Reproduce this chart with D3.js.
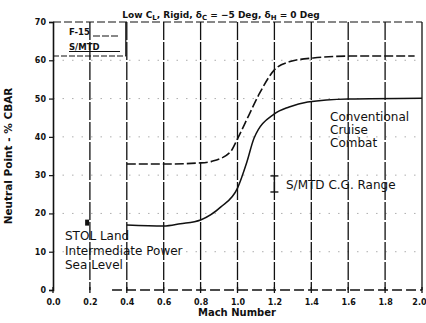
<!DOCTYPE html>
<html>
<head>
<meta charset="utf-8">
<script src="https://cdn.jsdelivr.net/npm/d3@7"></script>
<style>
  html, body { margin: 0; padding: 0; background: #fff; }
  svg { display: block; }
  text { font-family: "DejaVu Sans", "Liberation Sans", sans-serif; fill: #111; }
</style>
</head>
<body>
<svg id="chart" width="426" height="323"></svg>
<script>
// ---- data ----
const xTicks = [0.0, 0.2, 0.4, 0.6, 0.8, 1.0, 1.2, 1.4, 1.6, 1.8, 2.0];
const xTickLabels = ["0.0", "0.2", "0.4", "0.6", "0.8", "1.0", "1.2", "1.4", "1.6", "1.8", "2.0"];
const yTicks = [0, 10, 20, 30, 40, 50, 60, 70];
const yTickLabels = ["0", "10", "20", "30", "40", "50", "60", "70"];

// F-15 (dashed, upper)
const f15Mach = [0.40, 0.60, 0.80, 0.86, 0.96, 1.00, 1.06, 1.12, 1.20, 1.28, 1.41, 1.61, 1.96];
const f15NP   = [32.9, 32.9, 33.2, 33.6, 36.0, 39.5, 45.5, 51.4, 57.5, 59.6, 60.6, 61.1, 61.1];
// S/MTD (solid, lower)
const smtdMach = [0.40, 0.60, 0.69, 0.80, 0.91, 1.00, 1.05, 1.09, 1.20, 1.28, 1.38, 1.60, 2.00];
const smtdNP   = [17.0, 16.7, 17.3, 18.3, 21.7, 26.6, 33.3, 39.7, 46.0, 47.8, 49.1, 49.9, 50.1];

// S/MTD C.G. range bar
const cgRangeMach = [1.2];
const cgRangeLow = [25.6];
const cgRangeHigh = [29.8];

// STOL land point
const stolMach = [0.185];
const stolNP = [17.6];

// ---- layout ----
const svg = d3.select("#chart");
const x = d3.scaleLinear().domain([0, 2]).range([53, 422]);
const y = d3.scaleLinear().domain([0, 70]).range([290, 22]);

// horizontal dotted grid (faint)
svg.append("g").selectAll("line").data(yTicks.slice(1, -1)).join("line")
  .attr("x1", x(0)).attr("x2", x(2))
  .attr("y1", d => y(d)).attr("y2", d => y(d))
  .attr("stroke", "#999").attr("stroke-width", 0.8)
  .attr("stroke-dasharray", "1.5,8");

// vertical grid lines
svg.append("g").selectAll("line").data(xTicks.slice(1)).join("line")
  .attr("x1", d => x(d)).attr("x2", d => x(d))
  .attr("y1", y(70)).attr("y2", y(0))
  .attr("stroke", "#111").attr("stroke-width", 1.3)
  .attr("stroke-dasharray", d => d === 2 ? null : "18,2");

// top dashed border
svg.append("line")
  .attr("x1", x(0)).attr("x2", x(2)).attr("y1", y(70)).attr("y2", y(70))
  .attr("stroke", "#111").attr("stroke-width", 1.2).attr("stroke-dasharray", "8,3");
// bottom dashed axis
svg.append("line")
  .attr("x1", x(0.32)).attr("x2", x(2)).attr("y1", y(0)).attr("y2", y(0))
  .attr("stroke", "#111").attr("stroke-width", 1.3).attr("stroke-dasharray", "10,4");

// left axis
const yAxis = d3.axisLeft(y).tickValues(yTicks).tickFormat((d, i) => yTickLabels[i]).tickSize(4).tickPadding(3);
const gy = svg.append("g").attr("transform", `translate(${x(0)},0)`).call(yAxis);
gy.select(".domain").attr("stroke", "#111").attr("stroke-width", 1.6);
gy.selectAll(".tick line").attr("stroke", "#111").attr("stroke-width", 1.2);
gy.selectAll(".tick text").attr("font-size", 8).attr("font-weight", "bold")
  .attr("font-family", "DejaVu Sans, sans-serif").attr("fill", "#111");

// bottom axis labels/ticks
const xAxis = d3.axisBottom(x).tickValues(xTicks).tickFormat((d, i) => xTickLabels[i]).tickSize(0).tickPadding(9);
const gx = svg.append("g").attr("transform", `translate(0,${y(0)})`).call(xAxis);
gx.select(".domain").remove();
gx.selectAll(".tick text").attr("font-size", 8).attr("font-weight", "bold")
  .attr("font-family", "DejaVu Sans, sans-serif").attr("fill", "#111")
  .attr("text-anchor", d => d === 2 ? "end" : "middle")
  .attr("dx", d => d === 2 ? 4 : 0);
svg.append("g").selectAll("line").data(xTicks).join("line")
  .attr("x1", d => x(d)).attr("x2", d => x(d))
  .attr("y1", y(0) - 3).attr("y2", y(0) + 3)
  .attr("stroke", "#111").attr("stroke-width", 1.3);

// legend box
svg.append("line").attr("x1", x(0)).attr("x2", x(0.4) - 1).attr("y1", 56).attr("y2", 56)
  .attr("stroke", "#111").attr("stroke-width", 1.2).attr("stroke-dasharray", "6,2");
svg.append("line").attr("x1", x(0.4) - 1).attr("x2", x(0.4) - 1).attr("y1", y(70)).attr("y2", 56)
  .attr("stroke", "#111").attr("stroke-width", 1.2);
svg.append("text").attr("x", 69).attr("y", 35).attr("font-size", 8.5).attr("font-weight", "bold").text("F-15");
svg.append("line").attr("x1", 93).attr("x2", 120).attr("y1", 36).attr("y2", 36)
  .attr("stroke", "#111").attr("stroke-width", 1).attr("stroke-dasharray", "7,2");
svg.append("text").attr("x", 69).attr("y", 50).attr("font-size", 8.5).attr("font-weight", "bold").text("S/MTD");
svg.append("line").attr("x1", 69).attr("x2", 120).attr("y1", 51.5).attr("y2", 51.5)
  .attr("stroke", "#111").attr("stroke-width", 1);

// curves
const line = d3.line().x(d => x(d[0])).y(d => y(d[1])).curve(d3.curveMonotoneX);
svg.append("path").datum(f15Mach.map((m, i) => [m, f15NP[i]]))
  .attr("d", line).attr("fill", "none").attr("stroke", "#111")
  .attr("stroke-width", 1.6).attr("stroke-dasharray", "9,3");
svg.append("path").datum(smtdMach.map((m, i) => [m, smtdNP[i]]))
  .attr("d", line).attr("fill", "none").attr("stroke", "#111")
  .attr("stroke-width", 1.5);

// C.G. range bar
cgRangeMach.forEach((m, i) => {
  const g = svg.append("g").attr("stroke", "#111").attr("stroke-width", 1.4);
  g.append("line").attr("x1", x(m)).attr("x2", x(m)).attr("y1", y(cgRangeLow[i])).attr("y2", y(cgRangeHigh[i]));
  g.append("line").attr("x1", x(m) - 4).attr("x2", x(m) + 4).attr("y1", y(cgRangeLow[i])).attr("y2", y(cgRangeLow[i]));
  g.append("line").attr("x1", x(m) - 4).attr("x2", x(m) + 4).attr("y1", y(cgRangeHigh[i])).attr("y2", y(cgRangeHigh[i]));
});

// STOL point
svg.append("g").selectAll("rect").data(stolMach).join("rect")
  .attr("x", d => x(d) - 2).attr("y", (d, i) => y(stolNP[i]) - 3)
  .attr("width", 4).attr("height", 6).attr("fill", "#111");

// annotations
const ann = [
  ["Conventional", 330, 121], ["Cruise", 330, 134], ["Combat", 330, 147],
  ["S/MTD C.G. Range", 286, 189],
  ["STOL Land", 65, 240], ["Intermediate Power", 65, 255], ["Sea Level", 65, 269]
];
svg.append("g").selectAll("text").data(ann).join("text")
  .attr("x", d => d[1]).attr("y", d => d[2]).attr("font-size", 12).text(d => d[0]);

// title
const t = svg.append("text").attr("x", 221).attr("y", 18).attr("text-anchor", "middle")
  .attr("font-size", 9).attr("font-weight", "bold");
t.append("tspan").text("Low C");
t.append("tspan").attr("font-size", 7).attr("dy", 2).text("L");
t.append("tspan").attr("dy", -2).text(", Rigid, δ");
t.append("tspan").attr("font-size", 7).attr("dy", 2).text("C");
t.append("tspan").attr("dy", -2).text(" = −5 Deg, δ");
t.append("tspan").attr("font-size", 7).attr("dy", 2).text("H");
t.append("tspan").attr("dy", -2).text(" = 0 Deg");

// axis titles
svg.append("text").attr("x", 237).attr("y", 316).attr("text-anchor", "middle")
  .attr("font-size", 10).attr("font-weight", "bold").text("Mach Number");
svg.append("text").attr("transform", "translate(12,156) rotate(-90)").attr("text-anchor", "middle")
  .attr("font-size", 10.5).attr("font-weight", "bold").text("Neutral Point - % CBAR");
</script>
</body>
</html>
